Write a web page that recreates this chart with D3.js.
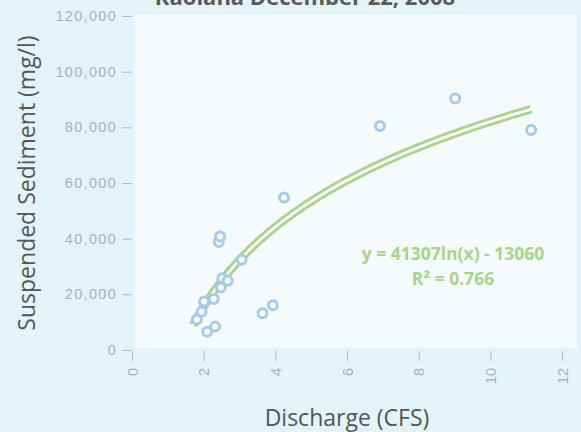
<!DOCTYPE html>
<html>
<head>
<meta charset="utf-8">
<script src="https://cdn.jsdelivr.net/npm/d3@7"></script>
<style>
  body { margin: 0; background: #e2f3fa; }
  svg { display: block; font-family: "Open Sans", Lato, sans-serif; }
</style>
</head>
<body>
<svg id="chart" width="581" height="432"></svg>
<script>
// data
const discharge = [1.81, 1.94, 2.01, 2.28, 2.10, 2.32, 2.48, 2.52, 2.67, 2.42, 2.46, 3.06, 3.64, 3.93, 4.24, 6.92, 9.02, 11.14];
const sediment = [11000, 13700, 17400, 18300, 6600, 8400, 22500, 25800, 24900, 38800, 40800, 32400, 13200, 16100, 54800, 80500, 90400, 79000];
const xTicks = [0, 2, 4, 6, 8, 10, 12];
const yTicks = [0, 20000, 40000, 60000, 80000, 100000, 120000];
const trendA = 41307, trendB = -13060, trendR2 = 0.766;
const trendStart = 1.7;

const svg = d3.select("#chart");
const W = 581, H = 432;

// top band
svg.append("rect").attr("x", 0).attr("y", 0).attr("width", W).attr("height", 15).attr("fill", "#e5f4f7");

const x = d3.scaleLinear().domain([0, 12]).range([132, 562]);
const y = d3.scaleLinear().domain([0, 120000]).range([350, 16]);

// plot area
svg.append("rect")
    .attr("x", 135).attr("y", 15)
    .attr("width", 577 - 135).attr("height", 348 - 15)
    .attr("fill", "#f5fafd");

// title (cut off at the top)
svg.append("text")
    .attr("x", 305).attr("y", 5)
    .attr("text-anchor", "middle")
    .attr("font-size", 22).attr("font-weight", "bold")
    .attr("fill", "#5a5a5a")
    .text("Kaolana December 22, 2008");

// y axis
const yAxis = svg.append("g")
    .attr("transform", "translate(132,0)")
    .call(d3.axisLeft(y).tickValues(yTicks).tickSize(10).tickPadding(5).tickFormat(d3.format(",")));
yAxis.select(".domain").remove();
yAxis.selectAll(".tick line").attr("stroke", "#b8b8b8");
yAxis.selectAll(".tick text").attr("fill", "#b0b0b0").attr("font-size", 14.5).attr("letter-spacing", 1.3);

// x axis
const xAxis = svg.append("g")
    .attr("transform", "translate(0,351)")
    .call(d3.axisBottom(x).tickValues(xTicks).tickSize(10).tickFormat(d3.format("d")));
xAxis.select(".domain").remove();
xAxis.selectAll(".tick line").attr("stroke", "#b8b8b8");
xAxis.selectAll(".tick text")
    .attr("fill", "#b0b0b0").attr("font-size", 14.5)
    .attr("transform", "rotate(-90)")
    .attr("text-anchor", "end")
    .attr("x", -17).attr("y", 0).attr("dy", "0.35em");

// axis titles
svg.append("text")
    .attr("transform", "translate(35,183) rotate(-90)")
    .attr("text-anchor", "middle")
    .attr("font-size", 23).attr("fill", "#555")
    .text("Suspended Sediment (mg/l)");
svg.append("text")
    .attr("x", 347).attr("y", 426)
    .attr("text-anchor", "middle")
    .attr("font-size", 23).attr("fill", "#555")
    .text("Discharge (CFS)");

// log trend line (double stroke)
const xEnd = d3.max(discharge);
const trendPts = d3.range(trendStart, xEnd, 0.05).concat([xEnd]).map(v => [v, trendA * Math.log(v) + trendB]);
const line = d3.line().x(d => x(d[0])).y(d => y(d[1])).curve(d3.curveMonotoneX);
svg.append("path").datum(trendPts)
    .attr("d", line).attr("fill", "none")
    .attr("stroke", "#a8d48b").attr("stroke-width", 8.5);
svg.append("path").datum(trendPts)
    .attr("d", line).attr("fill", "none")
    .attr("stroke", "#ffffff").attr("stroke-width", 2.8);

// points
svg.append("g").selectAll("circle")
    .data(discharge.map((d, i) => [d, sediment[i]]))
    .enter()
    .append("circle")
    .attr("cx", d => x(d[0]))
    .attr("cy", d => y(d[1]))
    .attr("r", 4.5)
    .attr("fill", "#ffffff")
    .attr("stroke", "#a4cbec")
    .attr("stroke-width", 3);

// equation
svg.append("text")
    .attr("x", 453).attr("y", 260)
    .attr("text-anchor", "middle")
    .attr("font-size", 17.5).attr("font-weight", "bold")
    .attr("fill", "#a8d48b")
    .text(`y = ${trendA}ln(x) - ${-trendB}`);
svg.append("text")
    .attr("x", 453).attr("y", 285)
    .attr("text-anchor", "middle")
    .attr("font-size", 17.5).attr("font-weight", "bold")
    .attr("fill", "#a8d48b")
    .text(`R² = ${trendR2}`);
</script>
</body>
</html>
